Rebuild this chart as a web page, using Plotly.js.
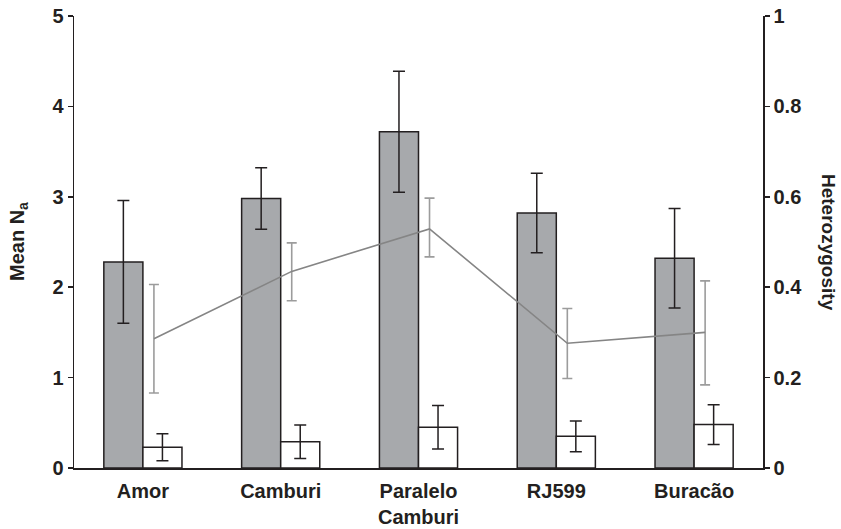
<!DOCTYPE html>
<html>
<head>
<meta charset="utf-8">
<script src="https://cdn.plot.ly/plotly-3.0.1.min.js"></script>
<style>html,body{margin:0;padding:0;background:#fff;}#chart{width:841px;height:529px;}</style>
</head>
<body>
<div id="chart"></div>
<script>
// Data
const categories = ["Amor", "Camburi", "Paralelo<br>Camburi", "RJ599", "Buracão"];
const meanNa = [2.28, 2.98, 3.72, 2.82, 2.32];
const meanNaErr = [0.68, 0.34, 0.67, 0.44, 0.55];
const privateNa = [0.23, 0.29, 0.45, 0.35, 0.48];
const privateNaErr = [0.15, 0.185, 0.24, 0.17, 0.22];
const heterozygosity = [0.286, 0.435, 0.529, 0.276, 0.300];
const heteroErrPlus = [0.12, 0.063, 0.068, 0.077, 0.114];
const heteroErrMinus = [0.12, 0.065, 0.062, 0.078, 0.116];
const leftTicks = [0, 1, 2, 3, 4, 5];
const rightTicks = [0, 0.2, 0.4, 0.6, 0.8, 1];

const idx = categories.map((_, i) => i);
const lineShift = 0.08;
const dark = '#231f20';
const fontFam = 'Liberation Sans, Arial, sans-serif';
const fs = 20;

const traces = [
  {
    type: 'bar', x: idx, y: meanNa, yaxis: 'y',
    marker: {color: '#a7a9ac', line: {color: dark, width: 1.5}},
    error_y: {type: 'data', array: meanNaErr, visible: true, color: dark, thickness: 1.5, width: 6},
    showlegend: false, hoverinfo: 'y'
  },
  {
    type: 'bar', x: idx, y: privateNa, yaxis: 'y',
    marker: {color: '#ffffff', line: {color: dark, width: 1.5}},
    error_y: {type: 'data', array: privateNaErr, visible: true, color: dark, thickness: 1.5, width: 6},
    showlegend: false, hoverinfo: 'y'
  },
  {
    type: 'scatter', mode: 'lines', x: idx.map(i => i + lineShift), y: heterozygosity, yaxis: 'y2',
    line: {color: '#858585', width: 1.6},
    error_y: {type: 'data', symmetric: false, array: heteroErrPlus, arrayminus: heteroErrMinus, visible: true, color: '#9c9c9c', thickness: 1.6, width: 5},
    showlegend: false, hoverinfo: 'y'
  }
];

const tickFont = {family: fontFam, size: fs, color: dark, weight: 'bold'};

const layout = {
  width: 841, height: 529,
  margin: {l: 74, r: 78, t: 16, b: 61},
  paper_bgcolor: '#ffffff', plot_bgcolor: '#ffffff',
  barmode: 'group', bargap: 0.433, bargroupgap: 0,
  font: {family: fontFam, color: dark, size: fs},
  xaxis: {
    range: [-0.5, 4.5], tickvals: idx, ticktext: categories,
    showline: true, linecolor: dark, linewidth: 1.5, ticks: '',
    showgrid: false, zeroline: false, ticklabelstandoff: 4,
    tickfont: tickFont
  },
  yaxis: {
    range: [0, 5], tickvals: leftTicks,
    showline: true, linecolor: dark, linewidth: 1.5,
    ticks: 'outside', ticklen: 5, tickwidth: 1.5, tickcolor: dark,
    showgrid: false, zeroline: false,
    tickfont: tickFont
  },
  yaxis2: {
    range: [0, 1], tickvals: rightTicks, overlaying: 'y', side: 'right',
    showline: true, linecolor: dark, linewidth: 1.5,
    ticks: 'outside', ticklen: 5, tickwidth: 1.5, tickcolor: dark,
    showgrid: false, zeroline: false,
    tickfont: tickFont
  },
  annotations: [
    {text: '<b>Mean N<sub>a</sub></b>', xref: 'paper', yref: 'paper', x: 0, y: 0.5,
     xanchor: 'center', yanchor: 'middle', xshift: -56, textangle: -90, showarrow: false,
     font: {family: fontFam, size: fs, color: dark}},
    {text: '<b>Heterozygosity</b>', xref: 'paper', yref: 'paper', x: 1, y: 0.5,
     xanchor: 'center', yanchor: 'middle', xshift: 66, textangle: 90, showarrow: false,
     font: {family: fontFam, size: 19, color: dark}}
  ]
};

Plotly.newPlot('chart', traces, layout, {displayModeBar: false, staticPlot: true});
</script>
</body>
</html>
